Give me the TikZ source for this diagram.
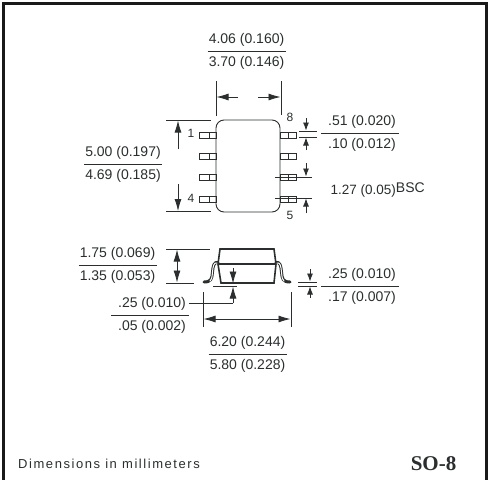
\documentclass[tikz,border=0pt]{standalone}
\usepackage{fontspec}
\setmainfont{Liberation Sans}
\newfontfamily\titlefont{Liberation Serif}
\usetikzlibrary{arrows.meta}
\definecolor{inkdark}{HTML}{2A2E2E}
\tikzset{
	lbl/.style={inner sep=0pt,text=inkdark,font=\fontsize{14}{14}\selectfont},
	pinnum/.style={inner sep=0pt,text=inkdark,font=\fontsize{12}{12}\selectfont},
	dimline/.style={draw=inkdark,line width=0.8pt},
	dimarrow/.style={draw=inkdark,line width=0.8pt,-{Latex[length=12pt,width=7pt]}},
	smallarrow/.style={draw=inkdark,line width=0.8pt,-{Latex[length=8pt,width=6pt]}},
	outline/.style={draw=inkdark,line width=0.8pt},
	leadline/.style={draw=inkdark,line width=3pt,line cap=round,line join=round},
}
% label pair: centre x, upper y, upper text, lower text
\def\dimpair(#1,#2)#3#4{
	\node[lbl] at (#1, #2) {#3};
	\draw[dimline] (#1-39, #2+11.5) -- (#1+39, #2+11.5);
	\node[lbl] at (#1, #2+23) {#4};
}

\begin{document}
\begin{tikzpicture}[x=1pt,y=-1pt]
		\useasboundingbox (0, 0) rectangle (489, 479);
		%%%%% FRAME %%%%%
		\draw[line width=3.4pt,draw=black!90] (3.7, 3.7) rectangle (486.3, 482);

		%%%%% TOP VIEW %%%%%
		\draw[outline,line width=0.9pt,rounded corners=8pt] (216, 120) rectangle (280, 212);
		\foreach \py in {132.5, 153.5, 174.5, 196.5} {
			\draw[outline] (199.5, \py) rectangle (216, \py+5.8);
			\draw[outline] (209, \py) -- (209, \py+5.8);
			\draw[outline] (280, \py) rectangle (296.5, \py+5.8);
			\draw[outline] (288, \py) -- (288, \py+5.8);
		}
		\node[pinnum] (pinone) at (191, 133) {1};
		\node[pinnum] (pinfour) at (191, 198) {4};
		\node[pinnum] (pineight) at (290, 117) {8};
		\node[pinnum] (pinfive) at (290, 215) {5};

		% width of body
		\draw[dimline] (216, 81) -- (216, 116);
		\draw[dimline] (281, 81) -- (281, 115);
		\draw[dimarrow] (238, 97) -- (216.5, 97);
		\draw[dimarrow] (258, 97) -- (280.5, 97);
		\dimpair(246.5,40){4.06 (0.160)}{3.70 (0.146)}

		% length of body
		\draw[dimline] (166, 120) -- (211, 120);
		\draw[dimline] (166, 211.5) -- (211, 211.5);
		\draw[dimarrow] (178, 149) -- (178, 120.5);
		\draw[dimarrow] (178, 184) -- (178, 211);
		\dimpair(123,153){5.00 (0.197)}{4.69 (0.185)}

		% lead width
		\draw[dimline] (299, 131) -- (317, 131);
		\draw[dimline] (299, 137) -- (317, 137);
		\draw[smallarrow] (306, 118) -- (306, 130.5);
		\draw[smallarrow] (306, 150) -- (306, 137.5);
		\dimpair(360,122){\kern4pt .51 (0.020)}{\kern4pt .10 (0.012)}

		% lead pitch
		\draw[dimline] (275, 177) -- (312, 177);
		\draw[dimline] (275, 198) -- (312, 198);
		\draw[smallarrow] (306, 163) -- (306, 176.5);
		\draw[smallarrow] (306, 213) -- (306, 198.5);
		\node[lbl,anchor=west] (pitch) at (330.5, 190) {{\fontsize{13.5}{14}\selectfont 1.27 (0.05)}\raisebox{1.5pt}{BSC}};

		%%%%% SIDE VIEW %%%%%
		\draw[outline,line width=1.6pt] (218, 264) -- (276, 264);
		\draw[outline,line width=1.6pt] (218, 264) -- (220, 249) -- (274, 249) -- (276, 264);
		\draw[outline,line width=1.6pt] (218, 264) -- (221, 283) -- (274, 283) -- (276, 264);

		% gull wing leads, light core on a dark stroke
		\foreach \sg in {-1, 1} {
			\draw[leadline] (247+\sg*29, 262.5) .. controls (247+\sg*33, 261.5) and (247+\sg*34, 266) .. (247+\sg*34.5, 272)
				.. controls (247+\sg*35, 279) and (247+\sg*36, 282) .. (247+\sg*43, 282);
			\draw[white,line width=1pt,line cap=round] (247+\sg*30, 263) .. controls (247+\sg*33, 262) and (247+\sg*34, 266) .. (247+\sg*34.5, 272)
				.. controls (247+\sg*35, 278) and (247+\sg*35.5, 280) .. (247+\sg*37, 281);
		}

		% overall height
		\draw[dimline] (166, 249) -- (210, 249);
		\draw[dimline] (166, 283) -- (194, 283);
		\draw[dimarrow] (177, 266) -- (177, 249.5);
		\draw[dimarrow] (177, 266) -- (177, 282.5);
		\dimpair(117.5,254){1.75 (0.069)}{1.35 (0.053)}

		% standoff
		\draw[dimline] (213, 286) -- (237, 286);
		\draw[dimarrow] (233, 268) -- (233, 283.5);
		\draw[dimarrow] (233, 303) -- (233, 286.5);
		\draw[dimline] (189, 303) -- (233, 303);
		\dimpair(150,304){\kern4pt .25 (0.010)}{\kern4pt .05 (0.002)}

		% overall width
		\draw[dimline] (203, 292) -- (203, 327);
		\draw[dimline] (291, 292) -- (291, 327);
		\draw[dimarrow] (247, 319) -- (203.5, 319);
		\draw[dimarrow] (247, 319) -- (290.5, 319);
		\dimpair(247.5,343){6.20 (0.244)}{5.80 (0.228)}

		% lead thickness
		\draw[dimline] (298, 282) -- (317, 282);
		\draw[dimline] (298, 286) -- (317, 286);
		\draw[smallarrow] (310, 269) -- (310, 281.5);
		\draw[smallarrow] (310, 298) -- (310, 286.5);
		\dimpair(360,275){\kern4pt .25 (0.010)}{\kern4pt .17 (0.007)}

		%%%%% FOOTER %%%%%
		\node[anchor=west,inner sep=0pt,text=inkdark,font=\fontsize{13}{13}\selectfont\addfontfeature{LetterSpace=12}] (units) at (18, 464) {Dimensions in millimeters};
		\node[anchor=east,inner sep=0pt,text=inkdark,font=\titlefont\bfseries\fontsize{21}{21}\selectfont] (pkgname) at (456.5, 464) {SO-8};
	\end{tikzpicture}
\end{document}
